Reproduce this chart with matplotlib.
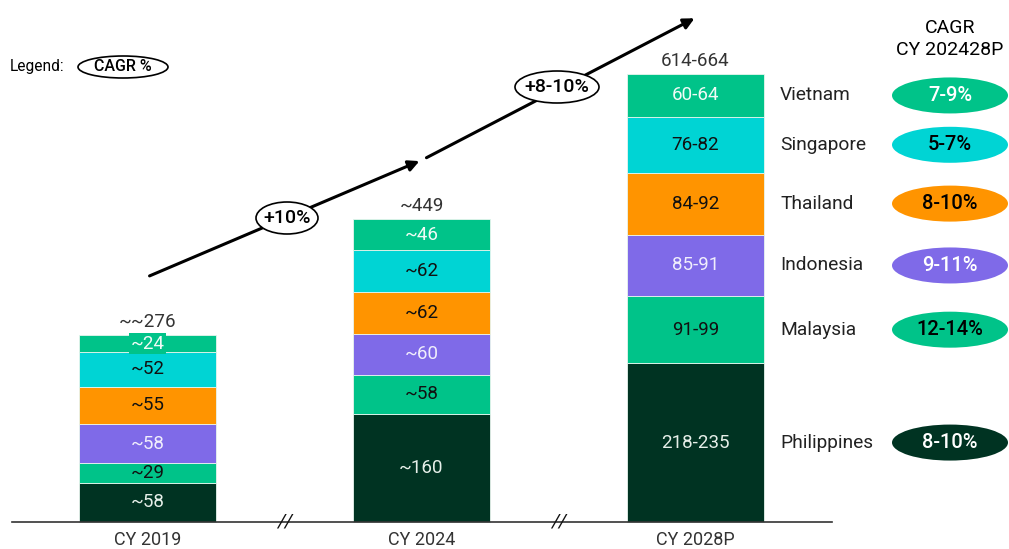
import numpy as np
import matplotlib.pyplot as plt
from matplotlib.patches import Ellipse

plt.rcParams['font.family'] = ['Roboto', 'DejaVu Sans']

# dados
anos = ['CY 2019', 'CY 2024', 'CY 2028P']
paises = ['Philippines', 'Malaysia', 'Indonesia', 'Thailand', 'Singapore', 'Vietnam']
v2019 = [58, 29, 58, 55, 52, 24]
v2024 = [160, 58, 60, 62, 62, 46]
v2028 = [235, 99, 91, 92, 82, 64]
rotulos_2019 = ['~58', '~29', '~58', '~55', '~52', '~24']
rotulos_2024 = ['~160', '~58', '~60', '~62', '~62', '~46']
rotulos_2028 = ['218-235', '91-99', '85-91', '84-92', '76-82', '60-64']
totais = ['~~276', '~449', '614-664']
cagr_pais = ['8-10%', '12-14%', '9-11%', '8-10%', '5-7%', '7-9%']
cagr_total = ['+10%', '+8-10%']

cores = ['#003322', '#00C389', '#7F6AE8', '#FF9400', '#00D4D4', '#00C389']
cor_txt = ['#e6efe9', '#111111', '#f0eefc', '#111111', '#111111', '#f0fbf6']
cor_txt_cagr = ['white', 'black', 'white', 'black', 'black', 'white']

W, H = 1009, 549
fig = plt.figure(figsize=(W / 100, H / 100), dpi=100)
ax = fig.add_axes([0, 0, 1, 1])

# escala: barras a 274 px, 0.676 px por unidade, base em y=522
sx = 274.0
sy = 0.676
x0 = 147.5
base = 522
ax.set_xlim(-x0 / sx, (W - x0) / sx)
ax.set_ylim(-(H - base) / sy, base / sy)
ax.axis('off')


def px(x):
    return (x - x0) / sx


def py(y):
    return (base - y) / sy


series = [v2019, v2024, v2028]
rotulos = [rotulos_2019, rotulos_2024, rotulos_2028]
for i, vals in enumerate(series):
    bottom = 0
    for j, v in enumerate(vals):
        ax.bar(i, v, bottom=bottom, width=0.5, color=cores[j], edgecolor='#e8f5ee', linewidth=0.6)
        kw = {}
        if i == 0 and j == 5:
            kw['bbox'] = dict(boxstyle='square,pad=0.1', fc=cores[j], ec='none')
        ax.text(i, bottom + v / 2, rotulos[i][j], ha='center', va='center', fontsize=13.5,
                color=cor_txt[j], **kw)
        bottom += v
    ax.text(i, bottom + 4 / sy, totais[i], ha='center', va='bottom', fontsize=13.5,
            color='#333333')
    ax.text(i, py(540), anos[i], ha='center', va='center', fontsize=13, color='#333333')

# eixo
ax.plot([px(12), px(832)], [0, 0], color='#333333', lw=1.2)
for xb in [285, 559]:
    ax.text(px(xb), 0, '//', ha='center', va='center', fontsize=14, style='italic', color='#111111')

# setas de crescimento
ax.annotate('', xy=(px(422), py(160)), xytext=(px(147), py(277)),
            arrowprops=dict(arrowstyle='-|>', lw=2.2, color='black', mutation_scale=16))
ax.annotate('', xy=(px(697), py(17)), xytext=(px(424), py(159)),
            arrowprops=dict(arrowstyle='-|>', lw=2.2, color='black', mutation_scale=16))
for (cx, cy, w), txt in zip([(287, 218, 62), (557, 87, 84)], cagr_total):
    ax.add_patch(Ellipse((px(cx), py(cy)), w / sx, 32 / sy, fc='white', ec='black', lw=1.2, zorder=5))
    ax.text(px(cx), py(cy), txt, ha='center', va='center', fontsize=14, fontweight='medium', zorder=6)

# paises e CAGR
bottom = 0
for j, v in enumerate(v2028):
    yc = bottom + v / 2
    ax.text(px(780), yc, paises[j], ha='left', va='center', fontsize=13.8, color='#222222')
    ax.add_patch(Ellipse((px(950), yc), 116 / sx, 36 / sy, fc=cores[j], ec='none'))
    ax.text(px(950), yc, cagr_pais[j], ha='center', va='center', fontsize=14.5,
            fontweight='medium', color=cor_txt_cagr[j])
    bottom += v

ax.text(px(950), py(28), 'CAGR', ha='center', va='center', fontsize=14)
ax.text(px(950), py(50), 'CY 202428P', ha='center', va='center', fontsize=14)

# legenda
ax.text(px(10), py(67), 'Legend:', ha='left', va='center', fontsize=11.2)
ax.add_patch(Ellipse((px(123), py(67)), 90 / sx, 22 / sy, fc='white', ec='black', lw=1.2))
ax.text(px(123), py(67), 'CAGR %', ha='center', va='center', fontsize=11.5, fontweight='medium')

fig.savefig('out.png', dpi=100)
